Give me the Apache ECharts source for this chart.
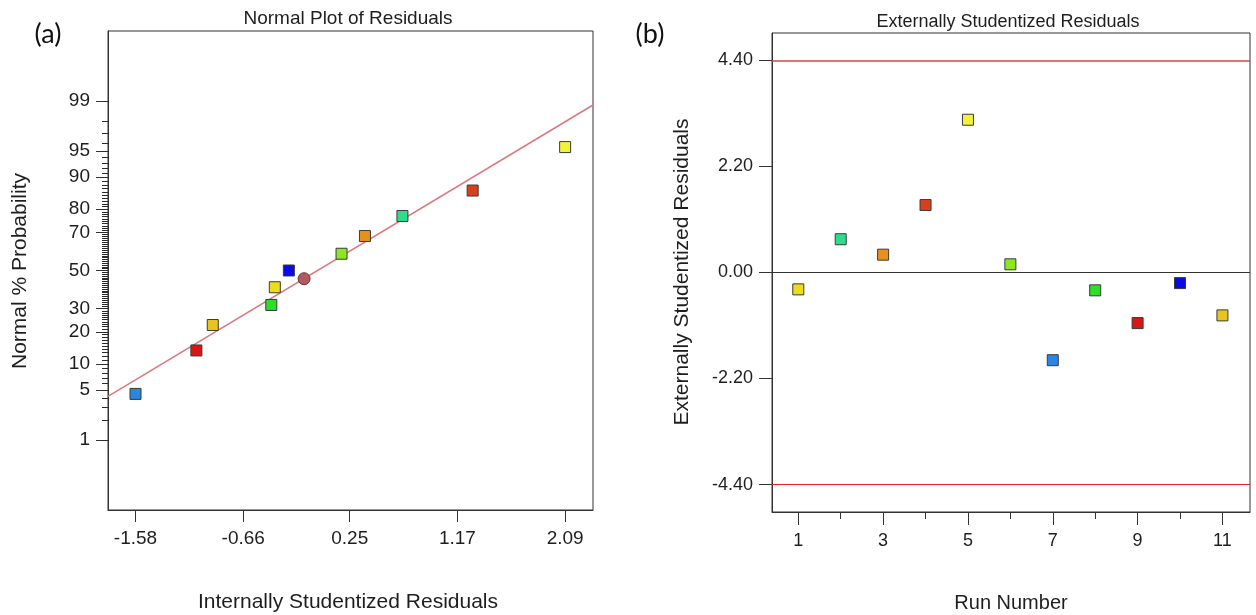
<!DOCTYPE html>
<html>
<head>
<meta charset="utf-8">
<script src="https://cdn.jsdelivr.net/npm/echarts@6/dist/echarts.min.js"></script>
<style>
html,body{margin:0;padding:0;background:#fff;}
#chart{width:1256px;height:615px;}
</style>
</head>
<body>
<div id="chart"></div>
<script>
// ---------------- data ----------------
const runNumbers = [1, 2, 3, 4, 5, 6, 7, 8, 9, 10, 11];
const externalResiduals = [-0.35, 0.69, 0.37, 1.40, 3.17, 0.17, -1.82, -0.37, -1.05, -0.22, -0.89];
const internalResiduals = [-0.39, 0.70, 0.38, 1.30, 2.09, 0.18, -1.58, -0.42, -1.06, -0.27, -0.92];
const normalProbability = [40.9, 77.3, 68.2, 86.4, 95.5, 59.1, 4.5, 31.8, 13.6, 50.0, 22.7];
const runColors = ['#ecdc1c', '#2fdc8c', '#e8901e', '#d8401c', '#f2f23a', '#8ce622', '#2a86e0', '#2ae02a', '#d81616', '#0a0ae8', '#e8c420'];
const extraPointResidual = [-0.14];
const extraPointProbability = [45.5];
const fitLineX = [-1.815, 2.328];
const fitLineProbability = [4.19, 98.85];
const probTickLabels = [1, 5, 10, 20, 30, 50, 70, 80, 90, 95, 99];
const probMinorTicks = Array.from({length: 99}, (_, i) => i + 1);
const internalTickLabels = [-1.58, -0.66, 0.25, 1.17, 2.09];
const runTickLabels = [1, 3, 5, 7, 9, 11];
const runMinorTicks = [2, 4, 6, 8, 10];
const externalTickLabels = [-4.40, -2.20, 0.00, 2.20, 4.40];
const limitLines = [4.40, -4.40];

// inverse standard normal CDF (probability axis scale)
function normInv(p) {
  const a = [-3.969683028665376e+01, 2.209460984245205e+02, -2.759285104469687e+02, 1.383577518672690e+02, -3.066479806614716e+01, 2.506628277459239e+00];
  const b = [-5.447609879822406e+01, 1.615858368580409e+02, -1.556989798598866e+02, 6.680131188771972e+01, -1.328068155288572e+01];
  const c = [-7.784894002430293e-03, -3.223964580411365e-01, -2.400758277161838e+00, -2.549732539343734e+00, 4.374664141464968e+00, 2.938163982698783e+00];
  const d = [7.784695709041462e-03, 3.224671290700398e-01, 2.445134137142996e+00, 3.754408661907416e+00];
  const pl = 0.02425, ph = 1 - pl;
  let q, r;
  if (p < pl) {
    q = Math.sqrt(-2 * Math.log(p));
    return (((((c[0]*q+c[1])*q+c[2])*q+c[3])*q+c[4])*q+c[5]) / ((((d[0]*q+d[1])*q+d[2])*q+d[3])*q+1);
  } else if (p <= ph) {
    q = p - 0.5; r = q * q;
    return (((((a[0]*r+a[1])*r+a[2])*r+a[3])*r+a[4])*r+a[5])*q / (((((b[0]*r+b[1])*r+b[2])*r+b[3])*r+b[4])*r+1);
  } else {
    q = Math.sqrt(-2 * Math.log(1 - p));
    return -(((((c[0]*q+c[1])*q+c[2])*q+c[3])*q+c[4])*q+c[5]) / ((((d[0]*q+d[1])*q+d[2])*q+d[3])*q+1);
  }
}
const pz = v => normInv(v / 100);

const probTickZ = probTickLabels.map(pz);
const probMinorZ = probMinorTicks.map(pz);

const FONT = '"Liberation Sans", Arial, sans-serif';
const TXT = '#1e1e1e';
const AX = '#333333';

const normalData = internalResiduals.map((x, i) => ({
  value: [x, pz(normalProbability[i])],
  itemStyle: {color: runColors[i]}
}));
const extraData = extraPointResidual.map((x, i) => [x, pz(extraPointProbability[i])]);
const fitData = fitLineX.map((x, i) => [x, pz(fitLineProbability[i])]);
const runData = runNumbers.map((r, i) => ({
  value: [r, externalResiduals[i]],
  itemStyle: {color: runColors[i]}
}));

const labelStyleL = {fontSize: 19, color: TXT, fontFamily: FONT};
const labelStyleR = {fontSize: 18, color: TXT, fontFamily: FONT};

const chart = echarts.init(document.getElementById('chart'), null, {renderer: 'canvas'});
chart.setOption({
  animation: false,
  backgroundColor: '#ffffff',
  grid: [
    {left: 108, right: 663, top: 31, bottom: 105, show: true, borderColor: AX, borderWidth: 1, backgroundColor: 'transparent'},
    {left: 772, right: 6, top: 33, bottom: 103, show: true, borderColor: AX, borderWidth: 1, backgroundColor: 'transparent'}
  ],
  xAxis: [
    {
      gridIndex: 0, type: 'value', min: -1.815, max: 2.328, position: 'bottom',
      axisLine: {show: true, onZero: false, lineStyle: {color: AX, width: 1}},
      axisTick: {show: true, length: 12, customValues: internalTickLabels, lineStyle: {color: AX}},
      axisLabel: Object.assign({customValues: internalTickLabels, margin: 19, formatter: v => v.toFixed(2)}, labelStyleL),
      splitLine: {show: false}
    },
    {
      gridIndex: 1, type: 'value', min: 0.38, max: 11.65, position: 'bottom',
      axisLine: {show: true, onZero: false, lineStyle: {color: AX, width: 1}},
      axisTick: {show: true, length: 13, customValues: runTickLabels, lineStyle: {color: AX}},
      axisLabel: Object.assign({customValues: runTickLabels, margin: 20, formatter: v => String(Math.round(v))}, labelStyleR),
      splitLine: {show: false}
    },
    {
      gridIndex: 1, type: 'value', min: 0.38, max: 11.65, position: 'bottom',
      axisLine: {show: false, onZero: false},
      axisTick: {show: true, length: 7, customValues: runMinorTicks, lineStyle: {color: AX}},
      axisLabel: {show: false},
      splitLine: {show: false}
    }
  ],
  yAxis: [
    {
      gridIndex: 0, type: 'value', min: -3.29, max: 3.29, position: 'left',
      axisLine: {show: true, onZero: false, lineStyle: {color: AX, width: 1}},
      axisTick: {show: true, length: 12, customValues: probTickZ, lineStyle: {color: AX}},
      axisLabel: Object.assign({
        customValues: probTickZ, margin: 18,
        formatter: v => {
          let best = 0, bd = Infinity;
          probTickZ.forEach((z, i) => { const dd = Math.abs(z - v); if (dd < bd) { bd = dd; best = i; } });
          return String(probTickLabels[best]);
        }
      }, labelStyleL),
      splitLine: {show: false}
    },
    {
      gridIndex: 0, type: 'value', min: -3.29, max: 3.29, position: 'left', offset: 0,
      axisLine: {show: false, onZero: false},
      axisTick: {show: true, length: 6, customValues: probMinorZ, lineStyle: {color: '#2a2a2a'}},
      axisLabel: {show: false},
      splitLine: {show: false}
    },
    {
      gridIndex: 1, type: 'value', min: -4.97, max: 4.97, position: 'left',
      axisLine: {show: true, onZero: false, lineStyle: {color: AX, width: 1}},
      axisTick: {show: true, length: 13, customValues: externalTickLabels, lineStyle: {color: AX}},
      axisLabel: Object.assign({customValues: externalTickLabels, margin: 19, formatter: v => v.toFixed(2)}, labelStyleR),
      splitLine: {show: false}
    }
  ],
  series: [
    {
      type: 'line', xAxisIndex: 0, yAxisIndex: 0, data: fitData, symbol: 'none',
      lineStyle: {color: '#d9797c', width: 1.5}, silent: true, z: 2
    },
    {
      type: 'scatter', xAxisIndex: 0, yAxisIndex: 0, data: normalData, symbol: 'rect', symbolSize: 11,
      itemStyle: {borderColor: '#3a3a3a', borderWidth: 1, opacity: 1}, z: 4
    },
    {
      type: 'scatter', xAxisIndex: 0, yAxisIndex: 0, data: extraData, symbol: 'circle', symbolSize: 12,
      itemStyle: {color: '#b35a60', borderColor: '#5a3a3a', borderWidth: 1, opacity: 1}, z: 4
    },
    {
      type: 'scatter', xAxisIndex: 1, yAxisIndex: 2, data: runData, symbol: 'rect', symbolSize: 11,
      itemStyle: {borderColor: '#3a3a3a', borderWidth: 1, opacity: 1}, z: 4,
      markLine: {
        silent: true, symbol: ['none', 'none'], label: {show: false}, animation: false,
        data: [
          {yAxis: limitLines[0], lineStyle: {color: '#cc4a48', width: 1.5, type: 'solid'}},
          {yAxis: limitLines[1], lineStyle: {color: '#e02424', width: 1.2, type: 'solid'}},
          {yAxis: 0, lineStyle: {color: '#333333', width: 1.2, type: 'solid'}}
        ]
      }
    }
  ],
  graphic: [
    {type: 'text', x: 48, y: 34, style: {text: '(a)', font: '27px Lato, "Open Sans", sans-serif', fill: '#111', align: 'center', verticalAlign: 'middle'}},
    {type: 'text', x: 650, y: 34, style: {text: '(b)', font: '27px Lato, "Open Sans", sans-serif', fill: '#111', align: 'center', verticalAlign: 'middle'}},
    {type: 'text', x: 348, y: 19, style: {text: 'Normal Plot of Residuals', font: '19px ' + FONT, fill: TXT, align: 'center', verticalAlign: 'middle'}},
    {type: 'text', x: 1008, y: 22, style: {text: 'Externally Studentized Residuals', font: '18px ' + FONT, fill: TXT, align: 'center', verticalAlign: 'middle'}},
    {type: 'text', x: 348, y: 602, style: {text: 'Internally Studentized Residuals', font: '21px ' + FONT, fill: TXT, align: 'center', verticalAlign: 'middle'}},
    {type: 'text', x: 1011, y: 603, style: {text: 'Run Number', font: '20px ' + FONT, fill: TXT, align: 'center', verticalAlign: 'middle'}},
    {type: 'text', x: 20, y: 271, rotation: Math.PI / 2, style: {text: 'Normal % Probability', font: '21px ' + FONT, fill: TXT, align: 'center', verticalAlign: 'middle'}},
    {type: 'text', x: 682, y: 272, rotation: Math.PI / 2, style: {text: 'Externally Studentized Residuals', font: '21px ' + FONT, fill: TXT, align: 'center', verticalAlign: 'middle'}}
  ]
});
</script>
</body>
</html>
